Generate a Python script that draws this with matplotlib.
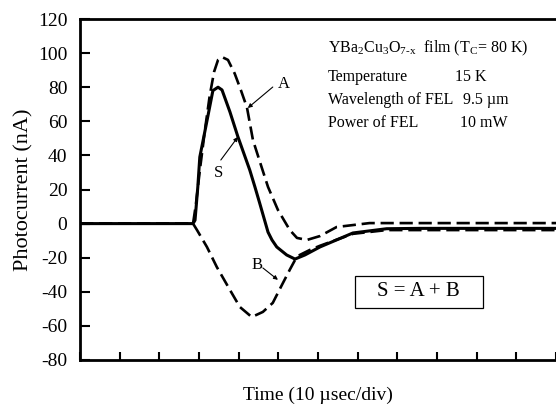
import matplotlib
matplotlib.use("Agg")
import matplotlib.pyplot as plt
from matplotlib.patches import Rectangle

plt.rcParams['font.family'] = ['Liberation Serif', 'DejaVu Serif']
plt.rcParams['mathtext.fontset'] = 'custom'
plt.rcParams['mathtext.rm'] = 'Liberation Serif'
plt.rcParams['mathtext.it'] = 'Liberation Serif:italic'
plt.rcParams['axes.unicode_minus'] = False

# time in microseconds (10 usec/div), photocurrent in nA
t_S = [0, 28.5, 29.0, 29.7, 30.2, 31.9, 33.5, 34.8, 35.8, 37.8, 39.8, 42.8, 44.1,
       45.3, 47.4, 48.4, 49.6, 52.1, 54.2, 56.7, 60.5, 68.8, 77.3, 85.6, 120]
S = [0, 0, 2, 21.5, 39, 59, 78, 80, 78.4, 65.5, 51, 31.4, 21.5,
     12, -5, -9.6, -13.7, -18.4, -20.8, -18.4, -13.7, -5.5, -3.0, -2.8, -2.8]

t_A = [0, 28.5, 29.2, 30.2, 31.5, 32.7, 33.8, 34.8, 35.8, 37.3, 39.0, 40.6, 42.1,
       43.6, 45.8, 47.4, 49.9, 52.9, 54.7, 57.2, 60.5, 64.7, 73, 120]
A = [0, 0, 11, 31, 55, 75, 89, 96, 97.7, 96, 88, 78, 68,
     49, 33, 21.5, 8, -3.8, -8.4, -9.6, -7.3, -2, 0.3, 0.3]

t_B = [0, 28.5, 29.5, 32.0, 34.5, 37.8, 40.3, 43.3, 46.1, 48.6, 50.9, 52.9, 54.2,
       55.4, 57.9, 60.5, 68.8, 77.3, 120]
B = [0, 0, -3.8, -13.7, -25.5, -38.9, -48.9, -54.8, -51.8, -46.5, -36, -27, -21.4,
     -18.4, -15.5, -13, -6, -3.8, -3.8]

info_labels = [r'YBa$_\mathrm{2}$Cu$_\mathrm{3}$O$_\mathrm{7\text{-}x}$  film (T$_\mathrm{C}$= 80 K)',
               'Temperature', 'Wavelength of FEL', 'Power of FEL']
info_values = ['', '15 K', '9.5 µm', '10 mW']

fig = plt.figure(figsize=(5.56, 4.13), dpi=100)
ax = fig.add_axes([80/556, 1-360/413, 1-80/556, (360-19)/413])

ax.plot(t_S, S, color='black', lw=2.2, solid_joinstyle='round')
ax.plot(t_A, A, color='black', lw=1.9, dashes=(5, 2.2))
ax.plot(t_B, B, color='black', lw=1.9, dashes=(5, 2.2))

ax.set_xlim(0, 120)
ax.set_ylim(-80, 120)
ax.set_xticks(range(0, 121, 10))
ax.set_xticklabels([])
ax.set_yticks(range(-80, 121, 20))
ax.tick_params(axis='both', direction='in', width=1.5, labelsize=14)
ax.tick_params(axis='x', length=6)
ax.tick_params(axis='y', length=7, pad=9)
for side in ['left', 'bottom', 'top']:
    ax.spines[side].set_linewidth(2.0)
ax.spines['right'].set_visible(False)

ax.set_ylabel('Photocurrent (nA)', fontsize=16, labelpad=3)
ax.set_xlabel('Time (10 µsec/div)', fontsize=14, labelpad=16)

arrow = dict(arrowstyle='-|>', lw=0.8, color='black', mutation_scale=6, shrinkA=0, shrinkB=0)
ax.annotate('', xy=(42.3, 67.8), xytext=(48.6, 80.1), arrowprops=arrow)
ax.text(51.4, 82, 'A', fontsize=12, ha='center', va='center')
ax.annotate('', xy=(39.8, 50.8), xytext=(35.5, 37.3), arrowprops=arrow)
ax.text(34.8, 29.7, 'S', fontsize=12, ha='center', va='center')
ax.annotate('', xy=(49.9, -33), xytext=(46.1, -26), arrowprops=arrow)
ax.text(44.6, -24.3, 'B', fontsize=12, ha='center', va='center')

ys = [103, 86, 72.5, 59]
xv = [0, 94.5, 96.5, 95.7]
for lab, val, y, x2 in zip(info_labels, info_values, ys, xv):
    ax.text(62.5, y, lab, fontsize=11.5, ha='left', va='center')
    if val:
        ax.text(x2, y, val, fontsize=11.5, ha='left', va='center')

ax.add_patch(Rectangle((69.3, -49.5), 32.2, 18.8, fill=False, lw=0.9, ec='black'))
ax.text(85.4, -40.1, 'S = A + B', fontsize=15, ha='center', va='center')

fig.savefig('out.png', dpi=100)
